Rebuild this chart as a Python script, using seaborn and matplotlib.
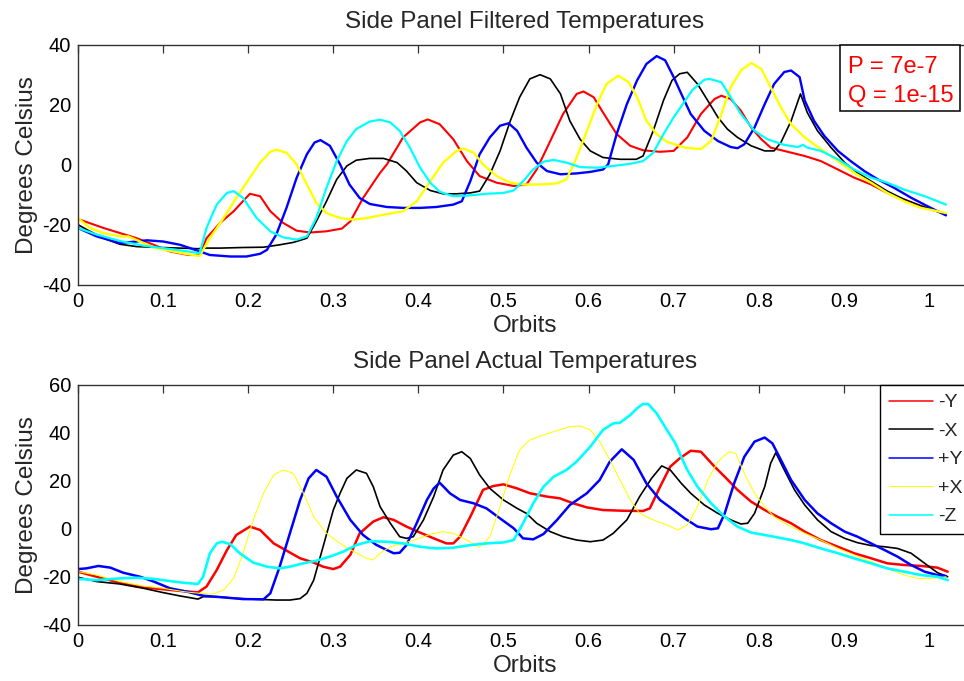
import matplotlib
matplotlib.use("Agg")
import matplotlib.pyplot as plt
from matplotlib.patches import Rectangle
import seaborn as sns
import pandas as pd

# ---------------------------------------------------------------- data
# Filtered side-panel temperatures, (orbit, deg C) samples per panel
FILT_NEG_Y = [(0, -18), (0.03, -21), (0.069, -24.4), (0.089, -26.6), (0.108, -28.8), (0.13, -30), (0.143, -30),
              (0.151, -24.4), (0.167, -19.3), (0.183, -15.4), (0.194, -12), (0.202, -9.6), (0.214, -10.4),
              (0.226, -15.4), (0.241, -19.3), (0.257, -21.9), (0.273, -22.5), (0.292, -22.1), (0.31, -21.2),
              (0.32, -18.8), (0.335, -11), (0.355, -2.6), (0.363, 0.2), (0.382, 9.2), (0.402, 14.2), (0.411, 15.2),
              (0.425, 13.6), (0.441, 8.6), (0.457, 1.3), (0.472, -3.7), (0.492, -5.9), (0.512, -7), (0.527, -6.5),
              (0.539, -1.5), (0.555, 8), (0.570, 17), (0.586, 23.7), (0.594, 24.5), (0.606, 22.6), (0.617, 17.5),
              (0.633, 10.3), (0.649, 6.4), (0.664, 4.9), (0.684, 4.4), (0.700, 4.7), (0.716, 9.2), (0.732, 17),
              (0.748, 22), (0.756, 23.1), (0.767, 22), (0.779, 18.1), (0.791, 12.5), (0.803, 8.6), (0.814, 5.8),
              (0.834, 4.4), (0.854, 3), (0.873, 1.3), (0.893, -1.5), (0.912, -4.2), (0.932, -6.5), (0.951, -9.3),
              (0.971, -11.5), (0.991, -13.7), (1.018, -16.3)]
FILT_NEG_X = [(0, -19.9), (0.014, -22.1), (0.03, -24.4), (0.049, -26.4), (0.069, -27.2), (0.096, -27.5), (0.12, -27.7),
              (0.141, -27.9), (0.151, -27.7), (0.167, -27.7), (0.194, -27.5), (0.218, -27.4), (0.237, -26.6),
              (0.253, -25.8), (0.269, -24.4), (0.28, -18.8), (0.292, -12.1), (0.304, -4.8), (0.316, -0.3),
              (0.327, 1.6), (0.343, 2.2), (0.359, 2.2), (0.375, 0.8), (0.386, -2), (0.398, -5.9), (0.414, -8.5),
              (0.429, -9.6), (0.445, -9.6), (0.461, -9.3), (0.472, -8.7), (0.484, -3.1), (0.496, 4.7), (0.508, 14.7),
              (0.519, 22.6), (0.531, 28.7), (0.543, 30.1), (0.555, 28.7), (0.567, 23.7), (0.578, 14.7), (0.590, 8.6),
              (0.602, 4.7), (0.617, 2.5), (0.637, 1.9), (0.656, 1.9), (0.664, 3), (0.676, 11.4), (0.688, 21.5),
              (0.698, 28.2), (0.707, 30.4), (0.716, 30.9), (0.728, 27), (0.740, 21.5), (0.752, 15.9), (0.763, 12),
              (0.775, 9.2), (0.791, 6.4), (0.807, 4.7), (0.818, 4.7), (0.826, 7.5), (0.838, 14.7), (0.849, 23.7),
              (0.857, 17.5), (0.869, 11.4), (0.885, 5.8), (0.901, 0.8), (0.916, -2.6), (0.932, -5.4), (0.951, -8.7),
              (0.971, -11.5), (0.991, -13.7), (1.010, -15.4), (1.020, -16.3)]
FILT_POS_Y = [(0, -21), (0.022, -23.8), (0.049, -26), (0.069, -25.5), (0.081, -25.1), (0.1, -25.5), (0.12, -26.6),
              (0.141, -28.6), (0.155, -30), (0.179, -30.5), (0.198, -30.5), (0.214, -29.6), (0.222, -28.3),
              (0.233, -23.2), (0.245, -14.3), (0.257, -4.2), (0.269, 3.6), (0.278, 7.5), (0.285, 8.3), (0.296, 6.4),
              (0.308, 0.2), (0.319, -6.5), (0.331, -11), (0.343, -13), (0.363, -14), (0.382, -14.3), (0.402, -14.3),
              (0.421, -14), (0.441, -13.2), (0.451, -12.1), (0.461, -5.4), (0.472, 3.6), (0.484, 9.2), (0.496, 13.1),
              (0.506, 13.9), (0.516, 11.4), (0.527, 5.8), (0.539, 0.8), (0.551, -2), (0.567, -3.1), (0.586, -2.8),
              (0.602, -2.3), (0.617, -1.5), (0.623, 0.2), (0.633, 10.3), (0.645, 20.3), (0.657, 28.2), (0.668, 33.7),
              (0.680, 36.3), (0.690, 34.9), (0.700, 29.3), (0.709, 23.7), (0.72, 17), (0.736, 11.4), (0.752, 8),
              (0.767, 6), (0.775, 5.6), (0.783, 6.9), (0.795, 12.5), (0.807, 20.3), (0.818, 27), (0.830, 31),
              (0.838, 31.5), (0.848, 29.3), (0.854, 21.5), (0.865, 14.7), (0.877, 9.7), (0.893, 4.7), (0.908, 1.3),
              (0.924, -2), (0.940, -4.8), (0.959, -7.6), (0.979, -10.9), (0.998, -13.7), (1.020, -16.8)]
FILT_POS_X = [(0, -17.7), (0.014, -21), (0.03, -22.7), (0.049, -23.8), (0.059, -23.8), (0.073, -25.5), (0.089, -27.5),
              (0.108, -28.6), (0.128, -29.7), (0.143, -30.3), (0.155, -24.4), (0.171, -17.7), (0.186, -11),
              (0.202, -4.2), (0.214, 0.8), (0.226, 4.4), (0.233, 5.1), (0.245, 4.1), (0.257, 0.2), (0.269, -6.5),
              (0.28, -12.6), (0.292, -16), (0.308, -17.7), (0.324, -18.2), (0.339, -17.7), (0.355, -16.8),
              (0.382, -15.4), (0.398, -12.1), (0.414, -5.4), (0.429, 0.8), (0.445, 4.7), (0.453, 5.5), (0.465, 4.1),
              (0.476, 0.2), (0.492, -3.7), (0.508, -5.9), (0.523, -6.5), (0.543, -6.5), (0.563, -6.1), (0.574, -4.8),
              (0.586, 2.5), (0.598, 11.4), (0.610, 20.3), (0.621, 27), (0.635, 29.8), (0.647, 27.6), (0.657, 22.6),
              (0.668, 14.7), (0.680, 10.3), (0.692, 7.7), (0.707, 6.4), (0.713, 5.8), (0.732, 5.3), (0.744, 8),
              (0.756, 17), (0.767, 25.9), (0.779, 31.5), (0.791, 34), (0.803, 32), (0.814, 25.9), (0.826, 19.2),
              (0.838, 13.6), (0.854, 9.2), (0.873, 5.3), (0.893, 1.3), (0.912, -2.6), (0.932, -5.9), (0.951, -9.3),
              (0.971, -12.1), (0.991, -14.3), (1.02, -16)]
FILT_NEG_Z = [(0, -21), (0.022, -23.2), (0.049, -25.3), (0.077, -26.9), (0.1, -27.7), (0.124, -28.6), (0.143, -29.4),
              (0.151, -21), (0.163, -13.2), (0.175, -9.3), (0.183, -8.7), (0.194, -11), (0.210, -17.7), (0.226, -22.1),
              (0.241, -24.1), (0.257, -24.9), (0.269, -23.8), (0.28, -17.7), (0.292, -7.6), (0.304, 1.3), (0.316, 8),
              (0.327, 12), (0.343, 14.5), (0.355, 15.1), (0.367, 14.2), (0.378, 11.4), (0.390, 5.8), (0.402, -0.9),
              (0.414, -5.9), (0.425, -8.9), (0.441, -10.4), (0.457, -10.2), (0.480, -9.6), (0.500, -9.3),
              (0.512, -8.5), (0.523, -5.4), (0.535, -1.5), (0.547, 1.1), (0.559, 1.7), (0.574, 0.8), (0.590, -0.7),
              (0.610, -0.9), (0.629, -0.3), (0.649, 0.4), (0.664, 1.3), (0.676, 4.1), (0.688, 10.3), (0.700, 15.9),
              (0.71, 20), (0.722, 25), (0.736, 28.4), (0.742, 28.7), (0.756, 27.6), (0.767, 22.6), (0.779, 17),
              (0.795, 11.4), (0.810, 8.6), (0.830, 6.7), (0.846, 6), (0.852, 6.7), (0.857, 5.8), (0.873, 4.7),
              (0.893, 1.9), (0.912, -1.5), (0.932, -4.2), (0.951, -5.9), (0.971, -8.2), (0.995, -10.4), (1.02, -13.2)]

# Actual (unfiltered) side-panel temperatures
ACT_NEG_Y = [(0, -17.8), (0.022, -19.9), (0.049, -22.4), (0.077, -24.3), (0.1, -25.1), (0.12, -25.8), (0.141, -26.4),
             (0.151, -24), (0.163, -17.1), (0.175, -8.8), (0.186, -2.5), (0.202, 1), (0.214, -0.4), (0.230, -6),
             (0.245, -9), (0.261, -12.2), (0.277, -14), (0.288, -15.7), (0.300, -16.7), (0.308, -15.7),
             (0.320, -10.8), (0.331, -1.8), (0.347, 3.1), (0.359, 4.9), (0.371, 3.8), (0.386, 1), (0.402, -1.5),
             (0.418, -3.9), (0.433, -6), (0.441, -6), (0.449, -3.2), (0.461, 5.1), (0.476, 16.3), (0.488, 17.9),
             (0.500, 18.6), (0.516, 16.9), (0.531, 14.9), (0.551, 13.5), (0.566, 12.8), (0.582, 10.7), (0.598, 9),
             (0.617, 7.9), (0.641, 7.6), (0.664, 7.5), (0.672, 8.6), (0.684, 17.6), (0.696, 26), (0.707, 29.4),
             (0.720, 32.6), (0.732, 32.2), (0.748, 26), (0.760, 21.8), (0.775, 16.3), (0.791, 11.4), (0.807, 7.9),
             (0.822, 5.1), (0.838, 2.4), (0.854, -1.1), (0.873, -4.6), (0.893, -7.4), (0.912, -10.1), (0.932, -12.2),
             (0.951, -14.3), (0.971, -15), (0.991, -15.4), (1.010, -16.1), (1.022, -17.8)]
ACT_NEG_X = [(0, -20.1), (0.022, -21.9), (0.049, -22.9), (0.077, -24.7), (0.1, -26.5), (0.12, -27.9), (0.141, -29.2),
             (0.147, -28.2), (0.163, -28.2), (0.186, -28.9), (0.21, -29.3), (0.233, -29.6), (0.249, -29.6),
             (0.261, -29), (0.269, -26.8), (0.277, -21.3), (0.288, -7.4), (0.300, 7.9), (0.308, 14.9), (0.316, 21.1),
             (0.327, 24.6), (0.339, 23.2), (0.347, 17.6), (0.355, 9.3), (0.367, 2.4), (0.378, -3.2), (0.386, -3.9),
             (0.394, -3.2), (0.406, 3.8), (0.418, 13.5), (0.429, 24.6), (0.441, 30.8), (0.451, 32.2), (0.461, 29.4),
             (0.472, 22.5), (0.484, 16.9), (0.500, 12.1), (0.516, 8.6), (0.527, 6.5), (0.539, 2.4), (0.555, -1.1),
             (0.570, -3.2), (0.586, -4.6), (0.602, -5.3), (0.617, -4.6), (0.629, -1.8), (0.645, 3.8), (0.660, 13.5),
             (0.674, 21.1), (0.686, 26.3), (0.696, 24.6), (0.709, 19), (0.720, 14.9), (0.736, 10), (0.752, 6.5),
             (0.767, 3.8), (0.779, 2.1), (0.787, 2.4), (0.795, 6.5), (0.807, 17.6), (0.814, 27.4), (0.820, 31.8),
             (0.830, 24.6), (0.842, 16.3), (0.854, 10), (0.869, 3.8), (0.885, -1.1), (0.901, -3.9), (0.916, -5.7),
             (0.932, -6.9), (0.948, -7.4), (0.963, -8.1), (0.979, -10.1), (0.995, -14.3), (1.010, -18.2),
             (1.022, -19.9)]
ACT_POS_Y = [(0, -16.7), (0.01, -16.4), (0.024, -15.4), (0.038, -16.1), (0.053, -18.2), (0.073, -19.9),
             (0.089, -21.9), (0.108, -24.7), (0.128, -26.1), (0.147, -27.8), (0.171, -28.5), (0.194, -29.2),
             (0.218, -29.3), (0.226, -26.8), (0.237, -15.7), (0.249, -1.8), (0.261, 12.1), (0.271, 21.1),
             (0.280, 24.6), (0.292, 21.8), (0.304, 13.5), (0.320, 3.8), (0.335, -2.5), (0.35, -6.5), (0.359, -8.1),
             (0.371, -10.1), (0.378, -9.9), (0.386, -6.7), (0.398, 2.4), (0.410, 12.1), (0.418, 16.9), (0.425, 19.3),
             (0.437, 14.9), (0.449, 12.1), (0.465, 10.7), (0.480, 8.6), (0.496, 4.4), (0.512, 0.3), (0.523, -3.9),
             (0.535, -4.3), (0.547, -2.1), (0.563, 3.8), (0.578, 10), (0.598, 14.9), (0.613, 20.4), (0.625, 28.1),
             (0.639, 33.2), (0.653, 28.8), (0.668, 19), (0.684, 12.1), (0.700, 7.9), (0.713, 4.4), (0.728, 1),
             (0.744, -0.1), (0.752, 0.3), (0.760, 6.5), (0.771, 19), (0.783, 30.1), (0.795, 36.4), (0.807, 38.1),
             (0.816, 35.7), (0.826, 28.8), (0.838, 20.4), (0.854, 12.1), (0.869, 6.5), (0.885, 2.4), (0.901, -1.1),
             (0.916, -3.2), (0.932, -6), (0.948, -8.8), (0.963, -11.5), (0.979, -15), (0.995, -17.8), (1.010, -19.2),
             (1.020, -19.6)]
ACT_POS_X = [(0, -17.8), (0.022, -19.2), (0.049, -21.9), (0.077, -23.8), (0.1, -24.7), (0.124, -26.1), (0.143, -26.8),
             (0.159, -27.1), (0.171, -25.4), (0.183, -20.6), (0.194, -10.1), (0.206, 3.8), (0.218, 14.9),
             (0.230, 22.5), (0.241, 24.6), (0.253, 23.2), (0.265, 14.9), (0.277, 5.1), (0.292, -1.8), (0.308, -6),
             (0.324, -9.4), (0.339, -12.2), (0.347, -12.9), (0.355, -10.1), (0.367, -7.4), (0.382, -6), (0.398, -4.3),
             (0.414, -2.2), (0.429, -1.1), (0.441, -1.8), (0.457, -4.6), (0.472, -7.6), (0.484, -3.2), (0.496, 9.3),
             (0.508, 23.2), (0.519, 32.9), (0.531, 37.1), (0.547, 39.2), (0.563, 41), (0.578, 42.6), (0.590, 42.9),
             (0.602, 41.3), (0.613, 36.4), (0.625, 28.8), (0.637, 20.4), (0.649, 12.1), (0.660, 6.5), (0.676, 3.8),
             (0.692, 1.7), (0.705, -0.4), (0.716, 1.7), (0.728, 9.3), (0.740, 20.4), (0.752, 28.1), (0.765, 32.2),
             (0.773, 31.5), (0.783, 23.2), (0.795, 14.9), (0.807, 9.3), (0.818, 5.1), (0.834, 1.7), (0.854, -1.8),
             (0.873, -4.6), (0.893, -8.1), (0.912, -10.8), (0.932, -13.6), (0.951, -16.4), (0.971, -19.2),
             (0.987, -20.6), (1.002, -20.6), (1.020, -19.9)]
ACT_NEG_Z = [(0, -20.8), (0.022, -21.3), (0.049, -20.6), (0.069, -20.3), (0.089, -20.8), (0.108, -21.7), (0.124, -22.4),
             (0.141, -22.9), (0.147, -19.9), (0.155, -10.1), (0.163, -6), (0.169, -5.3), (0.179, -6.3), (0.190, -10.1),
             (0.206, -14), (0.222, -15.7), (0.237, -16.4), (0.249, -15.7), (0.265, -14.3), (0.280, -13.2),
             (0.296, -11.5), (0.312, -9.4), (0.327, -6.7), (0.343, -5.1), (0.363, -5.3), (0.382, -6), (0.402, -7.4),
             (0.421, -8.1), (0.441, -7.8), (0.461, -6.7), (0.480, -6), (0.500, -5.6), (0.512, -4.6), (0.523, 2.4),
             (0.535, 10.7), (0.547, 17.6), (0.559, 21.8), (0.574, 24.6), (0.586, 28.1), (0.602, 34.3), (0.617, 41.3),
             (0.629, 44), (0.637, 44.3), (0.649, 47.5), (0.657, 50.3), (0.664, 52.1), (0.670, 52.1), (0.680, 48.2),
             (0.692, 41.3), (0.702, 35.7), (0.709, 30), (0.716, 24.6), (0.728, 17.6), (0.744, 10.7), (0.760, 5.1),
             (0.775, 1), (0.791, -1.5), (0.807, -2.5), (0.822, -3.5), (0.838, -4.6), (0.854, -6), (0.873, -8.1),
             (0.893, -10.1), (0.912, -12.2), (0.932, -14.3), (0.951, -16.4), (0.971, -17.8), (0.991, -19.2),
             (1.010, -19.9), (1.022, -21.3)]

SERIES_NAMES = ["-Y", "-X", "+Y", "+X", "-Z"]
SERIES_COLORS = ["#ff0000", "#000000", "#0000ff", "#ffff00", "#00ffff"]
FILT_WIDTHS = [1.5, 1.2, 1.7, 1.7, 1.6]
ACT_WIDTHS = [1.8, 1.2, 1.8, 0.75, 1.9]
LEGEND_WIDTHS = [1.1, 1.1, 1.1, 0.7, 1.1]

X_TICKS = [0, 0.1, 0.2, 0.3, 0.4, 0.5, 0.6, 0.7, 0.8, 0.9, 1.0]
X_TICK_LABELS = ["0", "0.1", "0.2", "0.3", "0.4", "0.5", "0.6", "0.7", "0.8", "0.9", "1"]
FILT_Y_TICKS = [-40, -20, 0, 20, 40]
ACT_Y_TICKS = [-40, -20, 0, 20, 40, 60]

FILTER_NOTE = ["P = 7e-7", "Q = 1e-15"]

# ---------------------------------------------------------------- style
sns.set_style("white")
plt.rcParams["font.family"] = ["Liberation Sans", "DejaVu Sans"]
plt.rcParams["axes.unicode_minus"] = False

fig = plt.figure(figsize=(9.64, 6.81), dpi=100)
W, H = 964.0, 681.0
x_left, x_right = 78.0, 971.5
ax_w = x_right - x_left
ax_top = fig.add_axes([x_left / W, 1 - 285 / H, ax_w / W, 240 / H])
ax_bot = fig.add_axes([x_left / W, 1 - 625 / H, ax_w / W, 240 / H])


def draw_panel(ax, series_list, widths, yticks, title):
    for pts, name, color, lw in zip(series_list, SERIES_NAMES, SERIES_COLORS, widths):
        df = pd.DataFrame(pts, columns=["orbit", "temp"])
        sns.lineplot(data=df, x="orbit", y="temp", ax=ax, color=color, linewidth=lw,
                     estimator=None, sort=False, label=name, legend=False)
    ax.set_xlim(0, 1.05)
    ax.set_ylim(yticks[0], yticks[-1])
    ax.set_xticks(X_TICKS)
    ax.set_xticklabels(X_TICK_LABELS)
    ax.set_yticks(yticks)
    ax.set_yticklabels([str(v) for v in yticks])
    ax.tick_params(direction="in", length=6, width=0.9, color="#333333", top=True, right=True,
                   labelsize=14.5, labelcolor="black", pad=5)
    for sp in ax.spines.values():
        sp.set_visible(True)
        sp.set_color("#333333")
        sp.set_linewidth(1.0)
    ax.set_xlabel("Orbits", fontsize=17.5, labelpad=3)
    ax.set_ylabel("Degrees Celsius", fontsize=17.5, labelpad=3)
    ax.set_title(title, fontsize=17.5, pad=12)
    ax.grid(False)


draw_panel(ax_top, [FILT_NEG_Y, FILT_NEG_X, FILT_POS_Y, FILT_POS_X, FILT_NEG_Z], FILT_WIDTHS,
           FILT_Y_TICKS, "Side Panel Filtered Temperatures")
draw_panel(ax_bot, [ACT_NEG_Y, ACT_NEG_X, ACT_POS_Y, ACT_POS_X, ACT_NEG_Z], ACT_WIDTHS,
           ACT_Y_TICKS, "Side Panel Actual Temperatures")

# filter parameters box (pixel geometry converted to axes fractions)
box_x0 = (839.5 - x_left) / ax_w
box_x1 = (960.0 - x_left) / ax_w
box_y0 = (285 - 110.7) / 240
box_y1 = (285 - 45.5) / 240
ax_top.add_patch(Rectangle((box_x0, box_y0), box_x1 - box_x0, box_y1 - box_y0, transform=ax_top.transAxes,
                           facecolor="white", edgecolor="black", linewidth=1.1, zorder=5, clip_on=False))
for line, base_px in zip(FILTER_NOTE, [73.3, 102.3]):
    ax_top.text((848.3 - x_left) / ax_w, (285 - base_px) / 240, line, transform=ax_top.transAxes,
                ha="left", va="baseline", color="red", fontsize=17, zorder=6)

# legend
handles, labels = ax_bot.get_legend_handles_labels()
leg = ax_bot.legend(handles, labels, loc="upper left", bbox_to_anchor=((880 - x_left) / ax_w, 1.0),
                    fontsize=14, frameon=True, fancybox=False, framealpha=1, edgecolor="black",
                    handlelength=2.3, handletextpad=0.22, labelspacing=0.56, borderpad=0.45,
                    borderaxespad=0)
leg.get_frame().set_linewidth(1.0)
for lh, lw in zip(leg.get_lines(), LEGEND_WIDTHS):
    lh.set_linewidth(lw)

fig.savefig("out.png", dpi=100)
